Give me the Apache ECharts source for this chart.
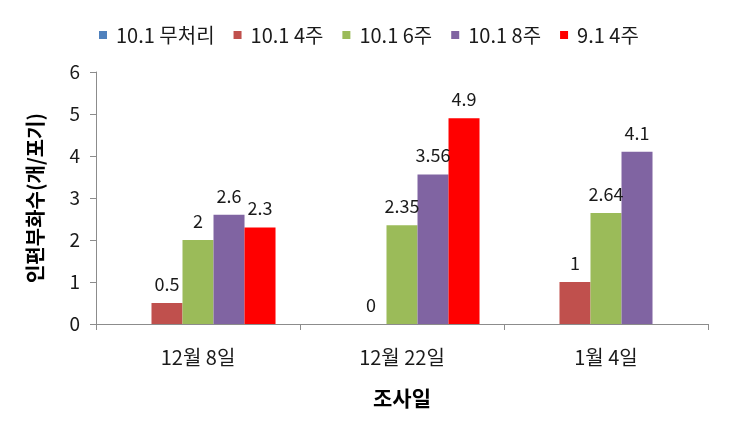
<!DOCTYPE html>
<html>
<head>
<meta charset="utf-8">
<script src="https://cdn.jsdelivr.net/npm/echarts@6/dist/echarts.min.js"></script>
<style>
html,body{margin:0;padding:0;background:#fff;}
#chart{width:730px;height:439px;}
</style>
</head>
<body>
<div id="chart"></div>
<script>
const categories = ['12월 8일', '12월 22일', '1월 4일'];
const seriesNames = ['10.1 무처리', '10.1 4주', '10.1 6주', '10.1 8주', '9.1 4주'];
const s_101_control = [null, null, null];
const s_101_4w = [0.5, 0, 1];
const s_101_6w = [2, 2.35, 2.64];
const s_101_8w = [2.6, 3.56, 4.1];
const s_91_4w = [2.3, 4.9, null];
const yTicks = [0, 1, 2, 3, 4, 5, 6];
const colors = ['#4F81BD', '#C0504D', '#9BBB59', '#8064A2', '#FF0000'];

const allData = [s_101_control, s_101_4w, s_101_6w, s_101_8w, s_91_4w];
const FONT = '"Noto Sans CJK KR", "Noto Sans", sans-serif';

const chart = echarts.init(document.getElementById('chart'), null, {renderer: 'canvas'});
chart.setOption({
  animation: false,
  backgroundColor: '#ffffff',
  color: colors,
  textStyle: {fontFamily: FONT},
  legend: {
    left: 94, top: 20,
    itemWidth: 8, itemHeight: 8, itemGap: 19,
    icon: 'rect',
    textStyle: {fontSize: 20, color: '#1a1a1a', fontFamily: FONT, padding: [0, 0, 0, 4]},
    data: seriesNames
  },
  grid: {left: 96, right: 22, top: 72, bottom: 115},
  xAxis: {
    type: 'category',
    data: categories,
    name: '조사일',
    nameLocation: 'middle',
    nameGap: 64,
    nameTextStyle: {fontSize: 21, fontWeight: 'bold', color: '#000', fontFamily: FONT},
    axisLine: {show: true, lineStyle: {color: '#8c8c8c', width: 1}},
    axisTick: {show: true, alignWithLabel: false, length: 6, lineStyle: {color: '#8c8c8c'}},
    axisLabel: {fontSize: 20, color: '#1a1a1a', margin: 23, fontFamily: FONT}
  },
  yAxis: {
    type: 'value',
    min: yTicks[0], max: yTicks[yTicks.length - 1], interval: 1,
    name: '인편부화수(개/포기)',
    nameLocation: 'middle',
    nameRotate: 90,
    nameGap: 51,
    nameTextStyle: {fontSize: 20, fontWeight: 'bold', color: '#000', fontFamily: FONT},
    axisLine: {show: true, lineStyle: {color: '#8c8c8c', width: 1}},
    axisTick: {show: true, length: 6, lineStyle: {color: '#8c8c8c'}},
    splitLine: {show: false},
    axisLabel: {fontSize: 19, color: '#1a1a1a', margin: 16, fontFamily: FONT}
  },
  series: seriesNames.map((n, i) => ({
    name: n,
    type: 'bar',
    data: allData[i],
    barGap: '0%',
    barCategoryGap: '24%',
    itemStyle: {color: colors[i]},
    label: {
      show: true, position: 'top', distance: 10,
      fontSize: 18, color: '#1a1a1a', fontFamily: FONT,
      formatter: p => (p.value === null || p.value === undefined) ? '' : String(p.value)
    }
  }))
});
</script>
</body>
</html>
